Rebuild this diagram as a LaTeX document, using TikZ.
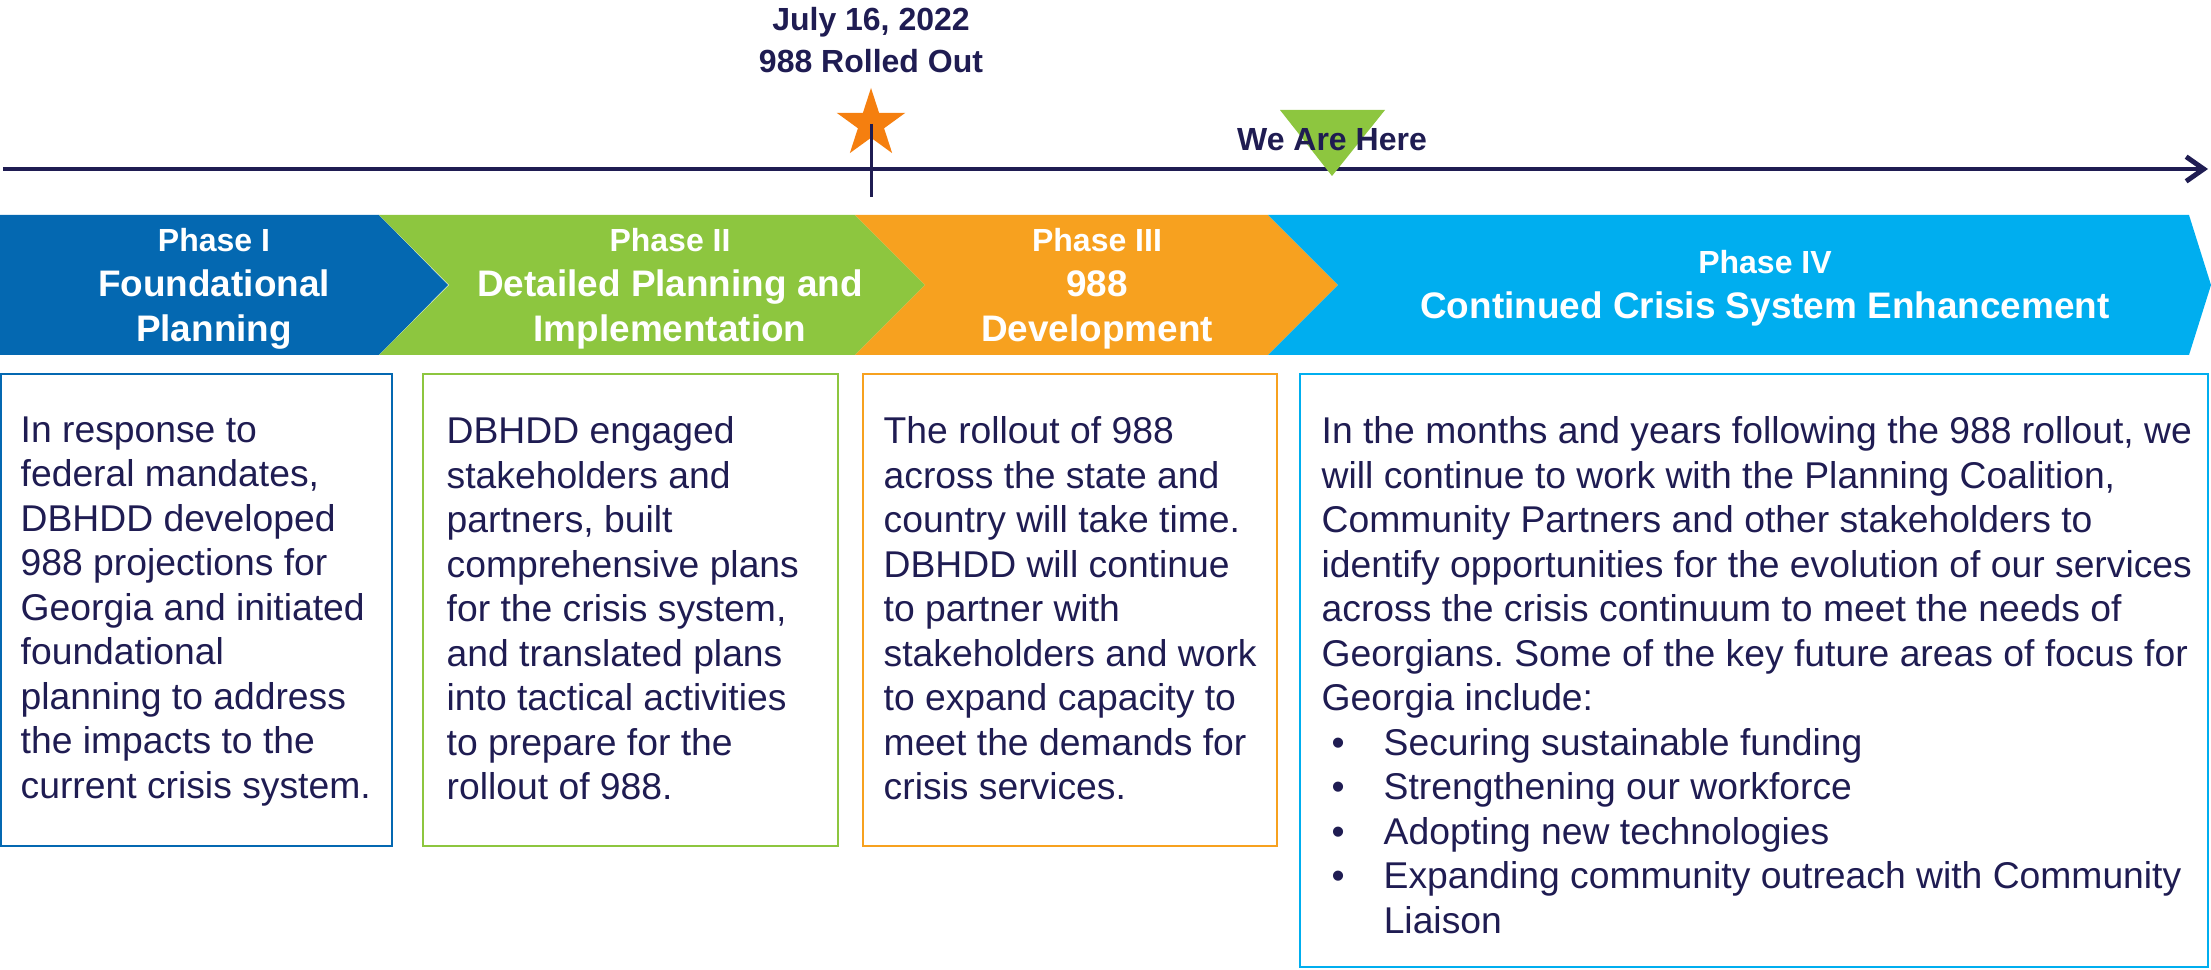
\documentclass[tikz,border=0pt]{standalone}
\usepackage{fontspec}
\setmainfont{Liberation Sans}
\usetikzlibrary{shapes.geometric,arrows.meta}

\definecolor{navy}{HTML}{1F1C52}
\definecolor{phblue}{HTML}{0468B1}
\definecolor{phgreen}{HTML}{8DC63F}
\definecolor{phorange}{HTML}{F7A11F}
\definecolor{phcyan}{HTML}{00AEEF}
\definecolor{starorange}{HTML}{F57F0F}

\newcommand{\phasenum}[1]{{\fontsize{9.1}{12.8}\selectfont #1}}
\newcommand{\itembul}{\makebox[0.62cm][l]{\hspace{0.1cm}\textbullet}}
\frenchspacing

\begin{document}
\begin{tikzpicture}[x=0.01cm, y=-0.01cm,
	datelabel/.style={font=\bfseries\fontsize{9.1}{11.7}\selectfont, text=navy, align=center, inner sep=0},
	phaselabel/.style={font=\bfseries\fontsize{10.5}{12.8}\selectfont, text=white, align=center, inner sep=0},
	bodytext/.style={font=\fontsize{10.6}{12.65}\selectfont, text=navy, align=left, anchor=north west, inner sep=0},
	infobox/.style={line width=0.6pt}]
	
	\useasboundingbox (0,0) rectangle (2211,970);
	
	% timeline
	\coordinate (tlstart) at (3,169);
	\coordinate (tlend) at (2208,169);
	\draw[navy, line width=1.4pt, -{Straight Barb[length=5pt,width=7pt]}] (tlstart) -- (tlend);
	
	% rollout marker
	\node[datelabel] (date) at (871,40) {July 16, 2022\\988 Rolled Out};
	\node[star, star points=5, star point ratio=2.618, fill=starorange, minimum size=0.72cm, inner sep=0] (star) at (871,124) {};
	\coordinate (tickend) at (871,197);
	\draw[navy, line width=0.85pt] (star.center) -- (tickend);
	
	% we are here
	\fill[phgreen] (1280,110) -- (1385,110) -- (1332,176) -- cycle;
	\node[datelabel] (here) at (1332,140) {We Are Here};
	
	% phase arrows
	\fill[phblue] (0,215) -- (379,215) -- (448,285) -- (379,355) -- (0,355) -- cycle;
	\foreach \xa/\xb/\col in {379/855/phgreen, 855/1268/phorange}
	{
		\fill[\col] (\xa,215) -- (\xb,215) -- (\xb+70,285) -- (\xb,355) -- (\xa,355) -- (\xa+70,285) -- cycle;
	}
	\fill[phcyan] (1268,215) -- (2189,215) -- (2211,285) -- (2189,355) -- (1268,355) -- (1338,285) -- cycle;
	
	\node[phaselabel] (ph1) at (214,289) {\phasenum{Phase I}\\Foundational\\Planning};
	\node[phaselabel] (ph2) at (670,289) {\phasenum{Phase II}\\Detailed Planning and\\Implementation};
	\node[phaselabel] (ph3) at (1097,289) {\phasenum{Phase III}\\988\\Development};
	\node[phaselabel] (ph4) at (1765,288) {\phasenum{Phase IV}\\Continued Crisis System Enhancement};
	
	% description boxes
	\foreach \xa/\xb/\yb/\col in {
		1/392/846/phblue,
		423/838/846/phgreen,
		863/1277/846/phorange,
		1300/2208/967/phcyan}
	{
		\draw[infobox, \col] (\xa,374) rectangle (\xb,\yb);
	}
	
	\node[bodytext] (txt1) at (20,416) {In response to\\federal mandates,\\DBHDD developed\\988 projections for\\Georgia and initiated\\foundational\\planning to address\\the impacts to the\\current crisis system.};
	\node[bodytext] (txt2) at (446,416) {DBHDD engaged\\stakeholders and\\partners, built\\comprehensive plans\\for the crisis system,\\and translated plans\\into tactical activities\\to prepare for the\\rollout of 988.};
	\node[bodytext] (txt3) at (883,416) {The rollout of 988\\across the state and\\country will take time.\\DBHDD will continue\\to partner with\\stakeholders and work\\to expand capacity to\\meet the demands for\\crisis services.};
	\node[bodytext] (txt4) at (1321,416) {In the months and years following the 988 rollout, we\\will continue to work with the Planning Coalition,\\Community Partners and other stakeholders to\\identify opportunities for the evolution of our services\\across the crisis continuum to meet the needs of\\Georgians. Some of the key future areas of focus for\\Georgia include:\\\itembul Securing sustainable funding\\\itembul Strengthening our workforce\\\itembul Adopting new technologies\\\itembul Expanding community outreach with Community\\\hspace*{0.62cm}Liaison};
\end{tikzpicture}
\end{document}
